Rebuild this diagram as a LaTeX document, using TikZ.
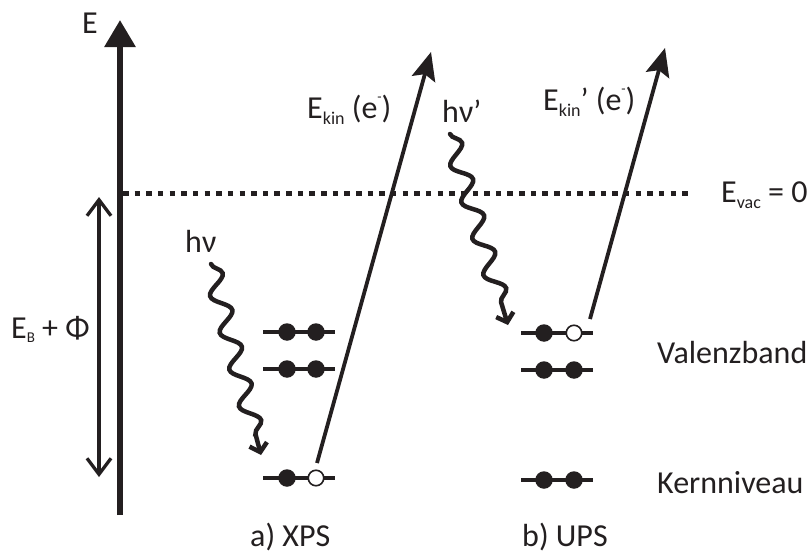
\documentclass[tikz,border=0pt]{standalone}
\usepackage{fontspec}
\setmainfont{Carlito}
\usetikzlibrary{arrows.meta,decorations.pathmorphing}
\definecolor{ink}{RGB}{35,31,32}
\newcommand\sbs[1]{\raisebox{-6pt}{\fontsize{18}{18}\selectfont #1}}
\newcommand\sbb[1]{\raisebox{-4pt}{\fontsize{15}{15}\selectfont #1}}
\newcommand\spm{\raisebox{17pt}{\fontsize{14}{14}\selectfont -}}
\begin{document}
\begin{tikzpicture}[x=1pt,y=-1pt,
  lbl/.style={text=ink,font=\fontsize{32}{32}\selectfont,inner sep=0pt,anchor=base west},
  axis/.style={draw=ink,line width=6pt,-{Triangle[length=27pt,width=30pt]}},
  vacline/.style={draw=ink,line width=5.5pt,dash pattern=on 5.5pt off 6.15pt},
  dblarrow/.style={draw=ink,line width=3.3pt,{Straight Barb[length=16pt,width=24pt]}-{Straight Barb[length=16pt,width=24pt]}},
  lvl/.style={draw=ink,line width=3.2pt},
  efull/.style={circle,fill=ink,minimum size=17.5pt,inner sep=0pt},
  eempty/.style={circle,draw=ink,fill=white,line width=1.6pt,minimum size=15.5pt,inner sep=0pt},
  earrow/.style={draw=ink,line width=3.8pt,-{Stealth[length=28pt,width=24pt,inset=5pt]}},
  wave/.style={draw=ink,line width=4.5pt,line cap=round,-{Straight Barb[length=8pt,width=18pt]},
    decorate,decoration={snake,segment length=38pt,amplitude=9pt,post length=12pt}}
]
\useasboundingbox (0,0) rectangle (807,554);

% energy axis
\coordinate (axB) at (120,515);
\coordinate (axT) at (120,20);
\draw[axis] (axB) -- (axT);
\node[lbl] (lE) at (82,33) {E};

% vacuum level
\coordinate (vacS) at (123,193.5);
\coordinate (vacE) at (690,193.5);
\draw[vacline] (vacS) -- (vacE);
\node[lbl] (lvac) at (721,202) {E\sbs{vac} = 0};

% binding energy arrow
\coordinate (ebT) at (99,197);
\coordinate (ebB) at (99,477);
\draw[dblarrow] (ebB) -- (ebT);
\node[lbl] (lEB) at (11,338) {E\sbb{B} + Φ};

% XPS levels
\coordinate (xa1) at (263,332); \coordinate (xa2) at (335,332);
\coordinate (xb1) at (263,369); \coordinate (xb2) at (335,369);
\coordinate (xc1) at (263,478); \coordinate (xc2) at (335,478);
\draw[lvl] (xa1) -- (xa2);
\draw[lvl] (xb1) -- (xb2);
\draw[lvl] (xc1) -- (xc2);
\node[efull] (x1a) at (287,332) {};
\node[efull] (x1b) at (316,332) {};
\node[efull] (x2a) at (287,369) {};
\node[efull] (x2b) at (316,369) {};
\node[efull] (x3a) at (287,478) {};
\node[eempty] (x3b) at (316,478) {};

% UPS levels
\coordinate (ua1) at (521,333); \coordinate (ua2) at (593,333);
\coordinate (ub1) at (521,370); \coordinate (ub2) at (593,370);
\coordinate (uc1) at (521,480); \coordinate (uc2) at (593,480);
\draw[lvl] (ua1) -- (ua2);
\draw[lvl] (ub1) -- (ub2);
\draw[lvl] (uc1) -- (uc2);
\node[efull] (u1a) at (544,333) {};
\node[eempty] (u1b) at (574,333) {};
\node[efull] (u2a) at (544,370) {};
\node[efull] (u2b) at (574,370) {};
\node[efull] (u3a) at (544,480) {};
\node[efull] (u3b) at (574,480) {};

% photoelectrons
\coordinate (xs) at (317,463);
\coordinate (xt) at (431,52);
\draw[earrow] (xs) -- (xt);
\coordinate (us) at (590,319);
\coordinate (ut) at (665,48);
\draw[earrow] (us) -- (ut);
\node[lbl] (lkin) at (307,118) {E\sbs{kin} (e\spm)};
\node[lbl] (lkin2) at (543,110) {E\sbs{kin}’ (e\spm)};

% photons
\coordinate (w1s) at (211,264);
\coordinate (w1e) at (261,455);
\draw[wave] (w1s) -- (w1e);
\node[lbl] (lhv) at (185,252) {hν};
\coordinate (w2s) at (450,134);
\coordinate (w2e) at (508,325);
\draw[wave] (w2s) -- (w2e);
\node[lbl] (lhv2) at (442,122) {hν’};

% level labels
\node[lbl] (lval) at (657,363) {Valenzband};
\node[lbl] (lkern) at (657,493) {Kernniveau};
\node[lbl] (lxps) at (250,546) {a) XPS};
\node[lbl] (lups) at (522,546) {b) UPS};
\end{tikzpicture}
\end{document}
